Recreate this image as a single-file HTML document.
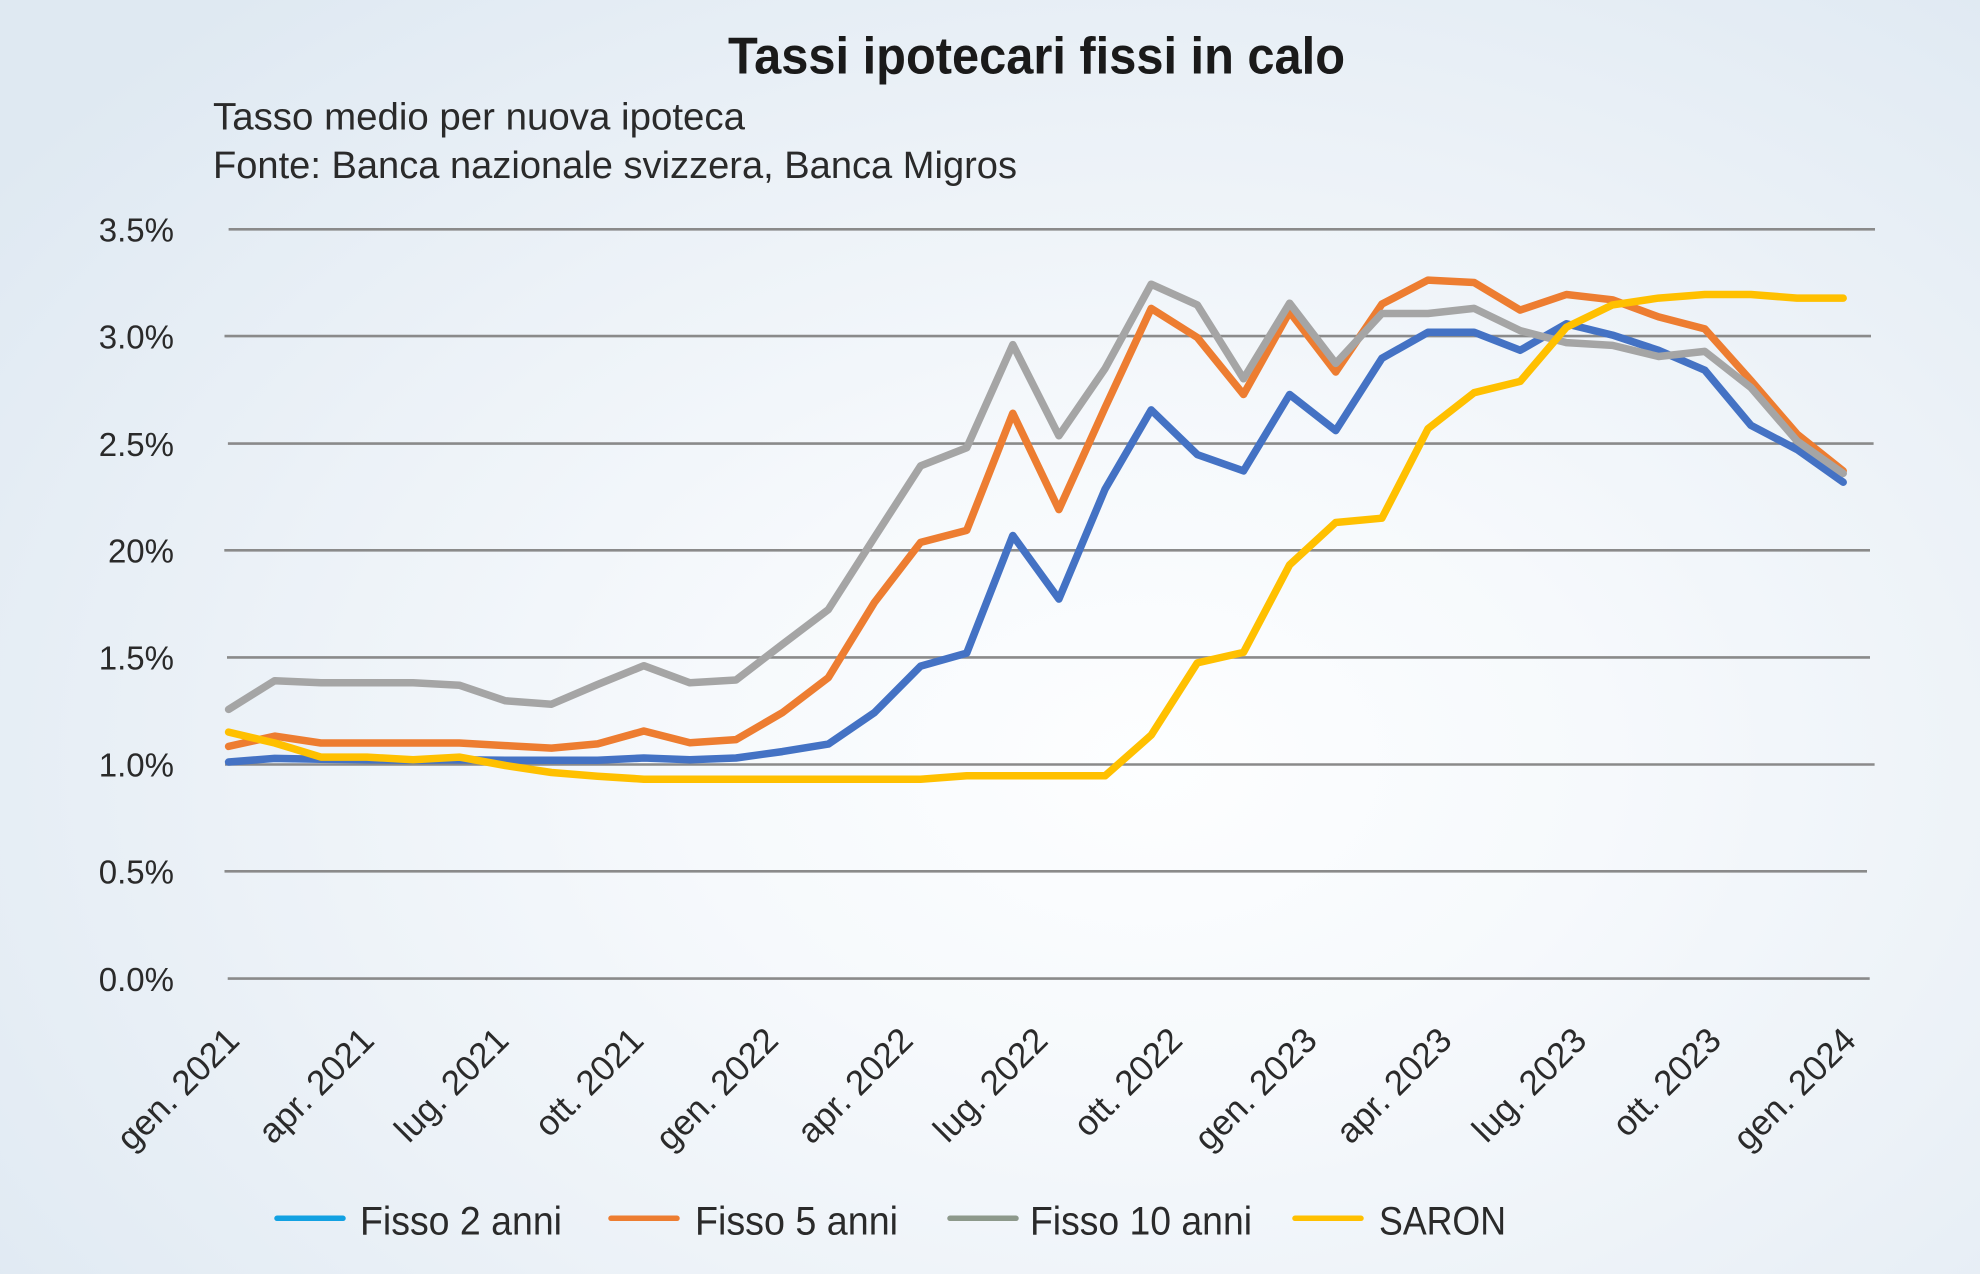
<!DOCTYPE html>
<html>
<head>
<meta charset="utf-8">
<style>
  html, body { margin:0; padding:0; }
  body { width:1980px; height:1274px; overflow:hidden; }
  .bg {
    position:absolute; left:0; top:0; width:1980px; height:1274px;
    background: radial-gradient(ellipse 72% 78% at 58% 60%, #fdfeff 0%, #f6f9fc 32%, #ebf1f7 66%, #dfe9f2 100%);
  }
  svg { position:absolute; left:0; top:0; }
  text { font-family: "Liberation Sans", Arial, sans-serif; }
</style>
</head>
<body>
<div class="bg"></div>
<svg width="1980" height="1274" viewBox="0 0 1980 1274" xmlns="http://www.w3.org/2000/svg">
  <!-- Title -->
  <text x="728" y="73.3" font-size="52" font-weight="bold" fill="#1a1a1a" textLength="617" lengthAdjust="spacingAndGlyphs">Tassi ipotecari fissi in calo</text>
  <!-- Subtitle -->
  <text x="213" y="129.3" font-size="38" fill="#2a2a2a" textLength="532" lengthAdjust="spacingAndGlyphs">Tasso medio per nuova ipoteca</text>
  <text x="213" y="178" font-size="38" fill="#2a2a2a" textLength="804" lengthAdjust="spacingAndGlyphs">Fonte: Banca nazionale svizzera, Banca Migros</text>

  <!-- Gridlines -->
  <g stroke="#8a8a8a" stroke-width="2.6">
    <line x1="228.6" y1="229.3" x2="1875" y2="229.3"/>
    <line x1="224.5" y1="336.1" x2="1871" y2="336.1"/>
    <line x1="227.9" y1="443.6" x2="1873.6" y2="443.6"/>
    <line x1="224.3" y1="550.3" x2="1870" y2="550.3"/>
    <line x1="227" y1="657.4" x2="1870" y2="657.4"/>
    <line x1="225" y1="764.5" x2="1874.6" y2="764.5"/>
    <line x1="224.5" y1="871.3" x2="1867" y2="871.3"/>
    <line x1="227.7" y1="978.6" x2="1869.7" y2="978.6"/>
  </g>

  <!-- Y axis labels -->
  <g font-size="33" fill="#2a2a2a" text-anchor="end">
    <text x="174" y="241.5">3.5%</text>
    <text x="174" y="348.3">3.0%</text>
    <text x="174" y="455.8">2.5%</text>
    <text x="174" y="562.5">20%</text>
    <text x="174" y="669.6">1.5%</text>
    <text x="174" y="776.7">1.0%</text>
    <text x="174" y="883.5">0.5%</text>
    <text x="174" y="990.8">0.0%</text>
  </g>

  <!-- Series -->
  <g fill="none" stroke-width="7.5" stroke-linejoin="round" stroke-linecap="round">
    <polyline stroke="#4472c4" points="228.6,762.0 274.7,758.4 320.9,759.3 367.0,759.7 413.1,760.3 459.3,759.7 505.4,760.3 551.5,760.3 597.6,760.3 643.8,758.0 689.9,759.7 736.0,758.0 782.2,751.6 828.3,744.1 874.4,712.6 920.6,666.1 966.7,653.1 1012.8,535.5 1058.9,599.1 1105.1,489.1 1151.2,409.9 1197.3,454.6 1243.5,470.9 1289.6,394.5 1335.7,430.6 1381.9,358.3 1428.0,332.3 1474.1,332.3 1520.2,350.3 1566.4,323.8 1612.5,335.1 1658.6,350.3 1704.8,370.2 1750.9,425.3 1797.0,449.5 1843.2,482.2"/>
    <polyline stroke="#ed7d31" points="228.6,746.4 274.7,736.1 320.9,743.0 367.0,743.0 413.1,743.0 459.3,743.0 505.4,745.6 551.5,748.1 597.6,743.9 643.8,731.0 689.9,742.8 736.0,739.6 782.2,712.8 828.3,677.7 874.4,602.5 920.6,542.4 966.7,530.4 1012.8,413.3 1058.9,509.6 1105.1,407.5 1151.2,308.4 1197.3,337.5 1243.5,394.5 1289.6,311.8 1335.7,372.0 1381.9,304.1 1428.0,280.1 1474.1,282.5 1520.2,310.1 1566.4,294.5 1612.5,299.8 1658.6,316.9 1704.8,328.9 1750.9,380.5 1797.0,434.0 1843.2,470.9"/>
    <polyline stroke="#a5a5a5" points="228.6,709.4 274.7,680.7 320.9,682.8 367.0,682.8 413.1,682.8 459.3,685.2 505.4,700.8 551.5,704.2 597.6,684.5 643.8,665.7 689.9,682.8 736.0,680.0 782.2,644.5 828.3,609.6 874.4,537.5 920.6,465.9 966.7,447.8 1012.8,344.6 1058.9,435.8 1105.1,368.5 1151.2,284.2 1197.3,304.9 1243.5,378.8 1289.6,303.2 1335.7,363.4 1381.9,313.5 1428.0,313.5 1474.1,308.4 1520.2,330.6 1566.4,342.6 1612.5,345.4 1658.6,356.5 1704.8,351.4 1750.9,387.6 1797.0,440.9 1843.2,473.4"/>
    <polyline stroke="#ffc000" points="228.6,732.1 274.7,743.0 320.9,757.1 367.0,757.1 413.1,759.7 459.3,757.1 505.4,765.5 551.5,772.5 597.6,776.2 643.8,779.2 689.9,779.2 736.0,779.2 782.2,779.2 828.3,779.2 874.4,779.2 920.6,779.2 966.7,775.8 1012.8,775.8 1058.9,775.8 1105.1,775.8 1151.2,735.1 1197.3,662.9 1243.5,652.4 1289.6,564.9 1335.7,522.5 1381.9,518.2 1428.0,428.7 1474.1,392.7 1520.2,381.4 1566.4,327.2 1612.5,304.9 1658.6,298.1 1704.8,294.5 1750.9,294.5 1797.0,298.1 1843.2,298.1"/>
  </g>

  <!-- X axis labels -->
  <g font-size="35" fill="#2a2a2a" text-anchor="end">
    <text transform="translate(241.3,1042.3) rotate(-45)">gen. 2021</text>
    <text transform="translate(376,1042.3) rotate(-45)">apr. 2021</text>
    <text transform="translate(510.7,1042.3) rotate(-45)">lug. 2021</text>
    <text transform="translate(645.5,1042.3) rotate(-45)">ott. 2021</text>
    <text transform="translate(780.2,1042.3) rotate(-45)">gen. 2022</text>
    <text transform="translate(914.9,1042.3) rotate(-45)">apr. 2022</text>
    <text transform="translate(1049.6,1042.3) rotate(-45)">lug. 2022</text>
    <text transform="translate(1184.3,1042.3) rotate(-45)">ott. 2022</text>
    <text transform="translate(1319,1042.3) rotate(-45)">gen. 2023</text>
    <text transform="translate(1453.8,1042.3) rotate(-45)">apr. 2023</text>
    <text transform="translate(1588.5,1042.3) rotate(-45)">lug. 2023</text>
    <text transform="translate(1723.2,1042.3) rotate(-45)">ott. 2023</text>
    <text transform="translate(1857.9,1042.3) rotate(-45)">gen. 2024</text>
  </g>

  <!-- Legend -->
  <g stroke-width="5.5" stroke-linecap="round">
    <line x1="277" y1="1218.3" x2="343" y2="1218.3" stroke="#12a1e2"/>
    <line x1="611" y1="1218.3" x2="677" y2="1218.3" stroke="#ed7d31"/>
    <line x1="950" y1="1218.3" x2="1016" y2="1218.3" stroke="#8d998b"/>
    <line x1="1295" y1="1218.3" x2="1361" y2="1218.3" stroke="#ffc000"/>
  </g>
  <g font-size="40" fill="#2a2a2a">
    <text x="360" y="1234.3" textLength="202" lengthAdjust="spacingAndGlyphs">Fisso 2 anni</text>
    <text x="695" y="1234.3" textLength="203" lengthAdjust="spacingAndGlyphs">Fisso 5 anni</text>
    <text x="1030" y="1234.3" textLength="222" lengthAdjust="spacingAndGlyphs">Fisso 10 anni</text>
    <text x="1379" y="1234.3" textLength="127" lengthAdjust="spacingAndGlyphs">SARON</text>
  </g>
</svg>
</body>
</html>
